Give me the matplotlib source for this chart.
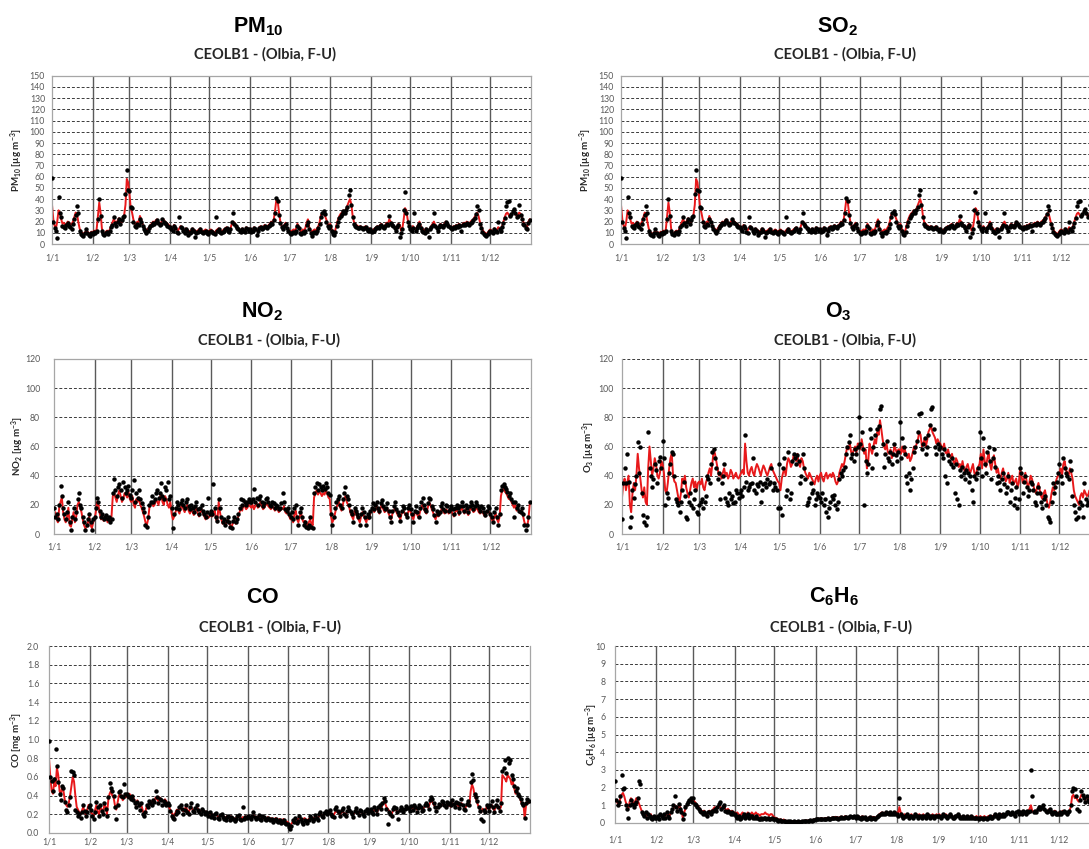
import numpy as np
import matplotlib
matplotlib.use('Agg')
import matplotlib.pyplot as plt

plt.rcParams['font.family'] = ['Lato', 'DejaVu Sans']
plt.rcParams['mathtext.fontset'] = 'custom'
plt.rcParams['mathtext.rm'] = 'Lato:bold'
plt.rcParams['mathtext.it'] = 'Lato:italic'
plt.rcParams['mathtext.bf'] = 'Liberation Sans:bold'

# ---- data: daily values 1 Jan - 31 Dec (365 days) ----
month_start = [0, 31, 59, 90, 120, 151, 181, 212, 243, 273, 304, 334]
month_labels = ['1/1', '1/2', '1/3', '1/4', '1/5', '1/6', '1/7', '1/8', '1/9', '1/10', '1/11', '1/12']
subtitle = 'CEOLB1 - (Olbia, F-U)'

# PM10 (also shown in the "SO2" panel of the original)
pm10_obs = [59,20,14,12,5,42,28,24,16,15,14,17,19,16,15,13,18,22,26,34,28,12,9,8,7,10,13,10,8,7,10,
            9,11,10,12,22,40,25,12,9,8,10,11,9,12,15,17,24,19,16,20,22,18,21,24,25,45,66,48,
            47,33,32,20,16,15,18,17,22,20,16,13,12,10,12,14,16,17,19,18,20,21,19,17,18,22,20,19,18,16,15,
            15,13,12,16,14,11,10,24,15,14,12,10,13,12,8,10,11,13,12,6,10,11,12,13,11,10,11,12,10,9,
            11,12,11,10,9,24,12,13,11,10,11,12,13,14,12,11,13,20,28,18,16,14,13,12,11,13,12,11,14,13,12,
            13,11,12,14,13,8,12,14,15,13,14,16,15,14,16,17,19,18,21,28,41,38,26,19,15,13,16,18,14,12,
            10,9,10,11,10,12,16,14,10,9,11,10,12,17,20,13,10,7,10,11,10,12,14,18,24,28,29,27,20,16,14,
            16,12,9,8,11,16,20,23,25,27,29,28,30,33,44,48,35,24,18,16,15,14,14,15,14,13,14,15,13,12,13,
            12,11,12,13,14,15,14,16,17,15,14,16,18,17,25,19,17,16,14,12,15,17,6,10,13,30,46,28,20,16,
            13,12,14,28,12,14,16,18,14,12,11,10,13,12,6,13,15,17,28,16,14,12,15,17,16,15,17,20,18,16,15,
            14,13,15,14,16,15,17,16,12,17,18,17,19,18,17,19,20,21,23,27,34,30,18,14,11,9,8,7,9,11,
            12,11,10,13,12,11,20,13,12,15,19,23,34,37,38,25,27,29,31,28,24,25,35,26,22,18,17,14,13,19,21]
pm10_mod = [35,22,16,14,20,30,28,22,18,19,17,18,20,19,17,18,20,24,28,27,20,14,11,10,9,10,12,11,10,9,11,
            10,12,11,13,25,37,28,14,10,9,11,12,10,13,16,19,22,20,18,21,23,20,19,22,26,35,58,55,
            45,32,28,22,18,17,20,19,25,22,18,15,14,12,13,15,17,18,20,19,21,22,20,18,19,21,22,20,19,18,17,
            16,15,14,17,15,13,12,14,16,15,13,12,14,13,12,11,12,14,13,12,11,12,13,14,12,11,12,13,12,11,
            12,13,12,11,10,12,13,14,12,11,12,13,14,15,13,12,14,18,20,19,17,15,14,13,12,14,13,12,15,14,13,
            14,12,13,15,14,12,13,15,16,14,15,17,16,15,17,18,20,19,22,30,40,38,28,20,16,14,17,19,15,13,
            12,11,12,13,12,14,18,16,12,11,13,12,14,19,22,15,12,11,12,13,12,14,16,20,26,28,27,25,22,18,16,
            18,14,11,10,13,18,22,25,27,28,30,29,31,34,37,40,36,26,20,18,17,16,15,16,15,14,15,16,14,13,14,
            13,12,13,14,15,16,15,17,18,16,15,17,19,18,22,20,18,17,15,14,16,18,17,12,14,22,32,30,22,18,
            15,14,16,14,13,15,17,20,16,14,13,12,14,13,12,14,16,18,20,17,15,14,16,18,17,16,18,20,19,17,16,
            15,14,16,15,17,16,18,17,16,18,19,18,20,19,18,20,21,22,24,26,28,25,20,16,13,11,10,9,10,12,
            13,12,11,14,13,12,15,14,13,16,20,24,27,28,26,24,26,28,30,27,25,26,28,27,24,20,18,16,15,20,22]

no2_obs = [18,12,14,10,20,33,26,18,14,10,15,22,8,3,12,18,10,15,24,28,20,18,12,8,3,6,10,14,8,3,10,
           12,18,25,22,16,12,14,10,12,13,10,12,8,10,28,38,30,26,32,34,30,25,36,32,28,30,33,27,
           25,30,37,22,28,25,30,24,21,18,15,6,5,12,20,22,26,22,24,28,30,25,28,35,26,24,32,30,36,24,26,
           18,4,14,18,22,20,17,21,23,20,18,22,24,19,17,20,18,15,19,22,17,14,18,20,16,14,12,15,25,14,
           16,14,34,18,12,9,24,18,12,8,10,6,9,12,8,5,4,9,12,8,10,14,18,24,20,23,22,20,22,24,22,
           22,24,31,22,25,20,24,26,22,19,21,24,25,22,20,19,22,21,18,20,19,17,18,21,28,22,17,16,18,14,
           12,15,10,18,20,12,6,15,18,12,6,8,5,4,6,12,5,4,28,32,35,30,34,32,30,33,31,35,32,28,27,
           14,6,12,18,22,24,26,20,18,24,28,32,26,24,20,16,14,8,18,16,14,12,6,14,18,15,12,6,14,12,16,
           18,21,17,20,22,18,16,21,23,19,17,18,21,16,12,8,16,19,22,17,15,13,9,16,19,18,14,12,18,20,
           17,14,8,16,19,15,12,18,22,25,20,17,16,21,25,24,19,17,13,8,16,14,15,19,21,17,16,20,19,16,17,
           19,17,14,18,20,18,15,19,22,19,16,20,18,15,19,22,20,17,19,22,20,18,16,19,18,15,13,16,19,18,
           14,12,8,15,18,12,6,14,30,33,34,32,31,29,26,28,24,22,12,22,18,20,16,15,18,14,6,3,6,12,22]
no2_mod = [12,15,10,8,18,22,25,15,10,8,12,18,6,5,10,15,8,12,20,22,18,15,10,6,4,5,8,12,6,4,8,
           10,15,22,20,14,10,12,9,10,11,8,10,9,12,26,28,25,22,27,30,26,22,24,28,27,25,29,24,
           22,26,20,18,24,22,25,20,18,15,12,8,6,10,18,20,22,19,20,24,22,20,25,28,22,20,26,24,20,18,22,
           14,10,12,15,18,16,14,18,20,17,15,18,20,16,14,17,15,13,16,18,14,12,15,17,14,12,10,13,11,12,
           14,12,15,16,10,8,22,15,10,7,9,6,8,10,7,6,5,8,10,7,9,12,15,18,16,20,19,17,18,20,19,
           18,20,17,19,21,18,20,22,19,17,18,20,21,19,18,17,19,18,16,18,17,15,16,18,17,19,15,14,16,12,
           10,12,8,14,16,10,8,12,15,10,8,9,7,6,8,10,7,6,25,28,30,27,29,28,26,28,27,30,28,25,24,
           12,8,10,14,18,20,22,18,16,20,24,26,22,20,18,14,12,10,16,14,12,10,8,12,15,13,10,8,12,10,14,
           16,18,15,17,19,16,14,18,20,17,15,16,18,14,12,10,14,16,18,15,13,12,10,14,16,15,13,12,15,17,
           15,12,10,14,16,13,11,15,18,20,17,15,14,18,22,20,17,15,12,10,14,12,13,16,18,15,14,17,16,14,15,
           16,14,12,15,17,15,13,16,18,16,14,17,15,13,16,18,17,15,16,18,17,15,14,16,15,13,12,14,16,15,
           12,10,8,12,14,10,8,12,26,30,31,29,28,26,24,25,22,20,18,20,16,18,15,14,16,12,8,6,5,10,20]

o3_obs = [10,35,45,35,55,36,5,12,30,25,34,40,63,42,60,28,13,8,6,12,70,45,40,32,38,48,44,35,50,53,45,
          64,52,20,28,25,42,48,56,55,40,24,22,20,15,22,30,36,26,12,10,22,28,20,18,24,30,15,14,
          20,22,24,18,22,26,40,38,35,48,56,58,52,45,38,42,24,35,40,48,25,22,20,28,24,26,21,22,30,28,25,
          28,30,26,32,68,36,30,32,34,35,52,30,28,34,33,36,22,30,34,35,32,38,34,36,45,30,35,32,30,18,
          48,18,13,45,52,26,30,56,24,28,50,55,52,48,54,50,35,40,55,45,38,20,22,25,35,28,30,20,24,28,26,
          25,22,28,20,24,15,12,18,22,26,24,27,20,17,22,38,42,40,44,46,55,60,63,68,52,55,50,58,55,60,
          80,62,70,58,20,50,42,48,72,66,45,60,68,55,72,74,86,88,62,46,55,64,52,50,56,48,55,62,54,50,56,
          77,52,66,60,55,40,35,42,30,38,45,56,60,64,70,82,83,58,62,66,55,60,68,75,86,87,72,60,55,62,58,
          60,55,52,58,40,35,54,50,48,52,46,28,48,24,20,44,40,46,42,38,44,42,36,40,30,22,40,38,42,45,
          70,52,40,66,48,42,56,60,50,38,52,58,46,35,40,36,30,38,42,34,28,32,40,22,30,35,20,25,32,18,24,
          45,42,28,36,40,32,26,30,36,34,30,22,20,28,32,28,22,18,24,26,20,12,10,8,22,35,28,32,36,42,
          48,40,35,52,45,42,40,38,50,44,26,20,15,10,12,18,22,20,12,35,24,20,22,26,24,20,28,30,25,28,30]
o3_mod = [25,35,38,30,35,40,20,15,28,35,30,40,55,45,38,30,25,32,22,20,45,60,50,40,45,52,48,40,38,42,50,
          48,42,30,28,35,45,52,55,40,36,35,30,25,22,28,38,35,40,32,28,25,30,35,38,32,36,30,35,
          36,34,38,32,30,35,38,42,45,40,48,58,55,50,45,40,42,38,42,45,40,42,38,40,44,42,38,40,42,39,38,
          40,42,44,41,62,50,42,40,44,46,42,40,45,48,46,43,40,44,47,45,42,40,43,46,48,44,42,40,38,36,
          35,30,38,42,45,40,48,52,50,46,48,54,52,50,55,48,46,52,50,45,42,40,38,42,40,38,36,34,38,40,36,
          40,42,38,36,40,42,38,40,41,39,42,40,36,34,36,42,45,48,46,50,55,60,58,62,56,55,58,60,56,62,
          62,58,65,60,55,58,45,50,62,58,55,60,65,62,70,68,78,72,65,60,58,62,56,55,58,52,55,60,58,55,58,
          58,55,60,56,58,54,52,55,50,52,56,60,58,62,65,70,68,60,62,65,60,64,70,72,74,70,68,66,62,65,63,
          62,60,58,62,56,55,58,54,52,55,50,48,52,50,46,48,44,50,45,42,46,48,44,42,45,48,42,40,44,46,
          48,55,45,58,50,46,52,55,48,44,50,54,48,42,45,40,38,42,45,40,36,38,42,35,38,40,34,36,38,32,35,
          45,40,35,38,42,36,32,35,40,38,34,30,28,32,35,30,26,24,28,30,25,20,18,22,28,32,30,35,38,40,
          42,45,40,48,50,44,42,40,45,42,38,30,26,24,22,20,26,28,25,30,28,26,27,30,28,26,30,32,28,30,32]

co_obs = [0.98,0.60,0.56,0.45,0.58,0.90,0.72,0.55,0.42,0.35,0.50,0.48,0.33,0.25,0.22,0.30,0.38,0.66,0.65,0.62,0.25,0.22,0.18,0.20,0.16,0.22,0.30,0.24,0.18,0.22,0.28,
          0.30,0.25,0.18,0.15,0.22,0.33,0.28,0.18,0.30,0.24,0.20,0.32,0.26,0.18,0.38,0.53,0.48,0.45,0.40,0.28,0.15,0.30,0.44,0.45,0.40,0.38,0.52,0.42,
          0.42,0.40,0.38,0.36,0.40,0.35,0.32,0.28,0.33,0.30,0.25,0.32,0.20,0.18,0.22,0.30,0.28,0.34,0.32,0.30,0.35,0.33,0.45,0.38,0.32,0.36,0.35,0.30,0.34,0.32,0.30,
          0.32,0.30,0.24,0.18,0.16,0.15,0.20,0.24,0.22,0.28,0.30,0.26,0.20,0.25,0.30,0.22,0.20,0.28,0.32,0.24,0.22,0.27,0.30,0.25,0.22,0.20,0.26,0.23,0.20,0.22,
          0.21,0.18,0.22,0.17,0.19,0.16,0.20,0.21,0.16,0.15,0.19,0.20,0.17,0.15,0.14,0.17,0.18,0.14,0.17,0.16,0.15,0.13,0.15,0.18,0.19,0.15,0.14,0.28,0.15,0.17,0.16,
          0.18,0.17,0.15,0.18,0.22,0.17,0.15,0.16,0.19,0.15,0.14,0.18,0.17,0.15,0.14,0.16,0.15,0.14,0.15,0.12,0.14,0.15,0.13,0.12,0.14,0.11,0.12,0.14,0.11,0.10,
          0.10,0.06,0.04,0.08,0.14,0.12,0.16,0.11,0.13,0.18,0.15,0.12,0.10,0.14,0.13,0.11,0.14,0.18,0.16,0.13,0.15,0.19,0.16,0.14,0.20,0.22,0.18,0.17,0.21,0.24,0.20,
          0.22,0.25,0.20,0.18,0.17,0.26,0.28,0.24,0.22,0.18,0.25,0.27,0.20,0.18,0.24,0.28,0.25,0.22,0.20,0.17,0.24,0.27,0.22,0.19,0.25,0.23,0.20,0.18,0.24,0.26,0.21,
          0.24,0.26,0.22,0.20,0.28,0.25,0.20,0.28,0.30,0.26,0.32,0.37,0.34,0.26,0.10,0.22,0.20,0.18,0.26,0.28,0.27,0.22,0.15,0.25,0.28,0.26,0.22,0.26,0.29,0.27,
          0.27,0.24,0.29,0.25,0.30,0.28,0.22,0.27,0.30,0.28,0.24,0.25,0.30,0.32,0.30,0.26,0.35,0.38,0.36,0.32,0.28,0.24,0.28,0.31,0.30,0.34,0.33,0.30,0.28,0.33,0.31,
          0.32,0.30,0.35,0.31,0.28,0.33,0.32,0.27,0.31,0.36,0.30,0.26,0.25,0.31,0.34,0.30,0.55,0.63,0.57,0.42,0.38,0.34,0.28,0.24,0.15,0.13,0.25,0.22,0.30,0.28,
          0.24,0.30,0.34,0.28,0.22,0.30,0.35,0.28,0.24,0.32,0.66,0.70,0.78,0.64,0.80,0.75,0.78,0.62,0.58,0.50,0.45,0.48,0.42,0.40,0.36,0.32,0.30,0.16,0.32,0.36,0.34]
co_mod = [0.80,0.60,0.45,0.42,0.55,0.50,0.70,0.62,0.45,0.40,0.50,0.45,0.35,0.30,0.28,0.32,0.40,0.50,0.60,0.55,0.40,0.28,0.25,0.22,0.20,0.24,0.28,0.22,0.20,0.25,0.30,
          0.28,0.22,0.20,0.18,0.25,0.30,0.22,0.20,0.28,0.25,0.22,0.30,0.28,0.20,0.35,0.42,0.45,0.40,0.38,0.30,0.25,0.32,0.40,0.42,0.38,0.35,0.40,0.38,
          0.40,0.38,0.42,0.40,0.36,0.38,0.34,0.30,0.35,0.32,0.28,0.30,0.25,0.20,0.22,0.28,0.30,0.32,0.30,0.34,0.32,0.35,0.38,0.36,0.34,0.38,0.36,0.35,0.33,0.36,0.34,
          0.30,0.28,0.25,0.22,0.20,0.18,0.22,0.25,0.24,0.26,0.28,0.25,0.23,0.26,0.28,0.24,0.22,0.26,0.28,0.25,0.24,0.26,0.28,0.26,0.24,0.23,0.25,0.24,0.22,0.23,
          0.22,0.20,0.21,0.19,0.20,0.18,0.19,0.20,0.18,0.17,0.18,0.19,0.18,0.17,0.16,0.18,0.17,0.16,0.18,0.17,0.16,0.15,0.16,0.17,0.18,0.16,0.15,0.17,0.16,0.18,0.17,
          0.17,0.18,0.16,0.17,0.19,0.18,0.16,0.17,0.18,0.16,0.15,0.17,0.18,0.16,0.15,0.17,0.16,0.15,0.16,0.14,0.15,0.16,0.15,0.14,0.15,0.13,0.14,0.15,0.13,0.12,
          0.12,0.10,0.08,0.10,0.12,0.14,0.15,0.13,0.15,0.17,0.16,0.14,0.15,0.16,0.14,0.13,0.15,0.16,0.17,0.15,0.16,0.18,0.17,0.16,0.18,0.20,0.19,0.18,0.20,0.21,0.20,
          0.20,0.22,0.21,0.20,0.19,0.22,0.24,0.22,0.21,0.20,0.22,0.23,0.21,0.20,0.22,0.24,0.23,0.22,0.21,0.20,0.22,0.24,0.22,0.21,0.23,0.22,0.21,0.20,0.22,0.23,0.22,
          0.22,0.24,0.23,0.22,0.25,0.24,0.22,0.26,0.28,0.25,0.30,0.34,0.32,0.28,0.26,0.24,0.22,0.20,0.24,0.26,0.25,0.23,0.22,0.24,0.26,0.25,0.23,0.25,0.27,0.26,
          0.26,0.25,0.27,0.26,0.28,0.27,0.25,0.26,0.28,0.27,0.25,0.26,0.28,0.30,0.29,0.27,0.32,0.35,0.33,0.30,0.28,0.26,0.27,0.29,0.28,0.30,0.31,0.29,0.28,0.30,0.29,
          0.30,0.28,0.32,0.30,0.29,0.31,0.30,0.28,0.30,0.32,0.30,0.28,0.27,0.30,0.32,0.30,0.45,0.52,0.48,0.40,0.36,0.32,0.28,0.25,0.22,0.26,0.24,0.22,0.28,0.27,
          0.25,0.28,0.30,0.26,0.24,0.28,0.30,0.27,0.25,0.28,0.62,0.60,0.58,0.55,0.62,0.60,0.58,0.52,0.55,0.48,0.42,0.45,0.40,0.38,0.35,0.30,0.32,0.15,0.30,0.35,0.32]

c6h6_obs = [2.4,1.3,1.0,1.2,1.5,2.7,1.9,2.0,1.0,0.8,0.3,1.0,1.3,1.1,0.9,1.1,1.2,1.4,2.4,2.2,0.6,0.5,0.4,0.6,0.3,0.5,0.4,0.3,0.2,0.4,0.3,
            0.3,0.4,0.2,0.5,0.4,0.3,0.5,0.3,0.6,0.4,0.3,0.6,0.8,1.0,1.5,0.9,0.7,1.1,0.8,0.6,0.2,0.5,0.9,1.1,1.2,1.3,1.4,1.2,
            1.4,1.1,1.0,0.9,0.8,0.7,0.6,0.5,0.6,0.5,0.4,0.6,0.6,0.5,0.7,0.7,0.8,0.7,0.9,1.1,1.2,0.8,0.9,1.0,0.7,0.6,0.7,0.6,0.5,0.6,0.5,
            0.5,0.4,0.3,0.4,0.2,0.3,0.4,0.5,0.3,0.4,0.5,0.3,0.4,0.4,0.3,0.3,0.4,0.3,0.2,0.2,0.3,0.2,0.3,0.3,0.2,0.3,0.2,0.2,0.3,0.2,
            0.2,0.2,0.15,0.1,0.15,0.1,0.1,0.1,0.1,0.08,0.1,0.05,0.1,0.08,0.05,0.1,0.05,0.05,0.1,0.05,0.05,0.1,0.1,0.1,0.12,0.1,0.12,0.15,0.12,0.15,0.18,
            0.2,0.2,0.22,0.2,0.25,0.2,0.22,0.25,0.22,0.28,0.25,0.22,0.28,0.3,0.28,0.3,0.3,0.25,0.3,0.32,0.3,0.3,0.35,0.32,0.3,0.32,0.38,0.32,0.35,0.38,
            0.3,0.38,0.32,0.3,0.2,0.36,0.3,0.32,0.22,0.2,0.3,0.32,0.22,0.3,0.28,0.22,0.32,0.38,0.48,0.5,0.58,0.5,0.52,0.6,0.58,0.5,0.6,0.52,0.5,0.6,0.5,
            0.5,0.4,1.4,0.5,0.4,0.3,0.4,0.4,0.5,0.3,0.4,0.4,0.3,0.4,0.5,0.4,0.3,0.4,0.4,0.3,0.4,0.4,0.3,0.5,0.4,0.3,0.4,0.4,0.3,0.4,0.4,
            0.4,0.4,0.3,0.4,0.5,0.4,0.4,0.3,0.4,0.5,0.4,0.3,0.3,0.4,0.4,0.5,0.4,0.3,0.3,0.4,0.3,0.3,0.4,0.3,0.3,0.4,0.3,0.3,0.3,0.3,
            0.3,0.2,0.3,0.3,0.2,0.3,0.3,0.2,0.3,0.4,0.3,0.3,0.4,0.5,0.4,0.3,0.5,0.4,0.4,0.5,0.4,0.5,0.6,0.6,0.5,0.5,0.6,0.5,0.4,0.6,0.7,
            0.5,0.6,0.5,0.7,0.6,0.5,0.7,0.6,0.7,3.0,1.5,0.6,0.7,0.6,0.8,0.9,0.8,0.9,1.0,0.8,0.7,0.6,0.7,0.8,0.6,0.5,0.6,0.6,0.5,0.5,
            0.5,0.6,0.5,0.6,0.7,0.6,0.5,0.6,0.7,1.0,1.8,2.0,1.9,1.5,0.8,0.7,1.3,1.8,1.6,1.4,1.2,1.5,1.3,1.2,1.1,1.3,1.2,1.1,1.0,1.2,1.1]
c6h6_mod = [1.2,1.3,1.1,1.0,1.4,1.6,1.7,1.5,1.2,1.0,0.8,1.2,1.4,1.3,1.0,1.2,1.4,1.3,1.1,0.9,0.7,0.6,0.5,0.5,0.4,0.5,0.4,0.5,0.3,0.4,0.3,
            0.3,0.4,0.3,0.5,0.4,0.3,0.5,0.4,0.6,0.5,0.4,0.6,0.7,0.8,1.0,0.9,0.8,1.0,0.9,0.7,0.3,0.6,0.8,1.0,1.1,1.2,1.3,1.2,
            1.3,1.2,1.1,1.0,0.9,0.8,0.7,0.6,0.7,0.6,0.5,0.6,0.7,0.6,0.7,0.8,0.9,0.8,0.9,1.0,0.9,0.8,0.9,1.0,0.8,0.7,0.8,0.7,0.6,0.7,0.6,
            0.6,0.5,0.6,0.5,0.4,0.5,0.6,0.5,0.4,0.5,0.6,0.5,0.5,0.6,0.5,0.5,0.6,0.5,0.5,0.4,0.5,0.5,0.5,0.6,0.5,0.5,0.4,0.5,0.5,0.4,
            0.3,0.3,0.25,0.2,0.2,0.2,0.15,0.2,0.15,0.12,0.12,0.1,0.12,0.1,0.1,0.12,0.1,0.1,0.12,0.1,0.1,0.12,0.12,0.12,0.15,0.12,0.15,0.18,0.15,0.18,0.2,
            0.22,0.2,0.25,0.22,0.28,0.25,0.22,0.28,0.26,0.3,0.28,0.26,0.3,0.32,0.3,0.35,0.32,0.3,0.32,0.36,0.35,0.32,0.38,0.36,0.34,0.32,0.4,0.36,0.38,0.4,
            0.38,0.4,0.35,0.36,0.3,0.38,0.36,0.34,0.3,0.25,0.32,0.36,0.3,0.35,0.32,0.3,0.36,0.4,0.5,0.56,0.6,0.55,0.58,0.6,0.6,0.56,0.6,0.58,0.52,0.6,0.56,
            0.6,0.5,0.9,0.6,0.5,0.4,0.5,0.4,0.5,0.4,0.4,0.5,0.4,0.4,0.5,0.5,0.4,0.5,0.4,0.4,0.5,0.4,0.4,0.5,0.5,0.4,0.4,0.5,0.4,0.4,0.5,
            0.4,0.5,0.4,0.4,0.5,0.4,0.5,0.4,0.4,0.5,0.4,0.4,0.3,0.4,0.4,0.5,0.4,0.4,0.3,0.4,0.4,0.3,0.4,0.4,0.3,0.4,0.4,0.3,0.3,0.4,
            0.3,0.3,0.4,0.3,0.3,0.4,0.3,0.3,0.4,0.4,0.3,0.4,0.4,0.5,0.4,0.4,0.5,0.4,0.5,0.5,0.4,0.5,0.5,0.6,0.5,0.5,0.6,0.5,0.5,0.6,0.6,
            0.6,0.5,0.6,0.7,0.6,0.5,0.6,0.7,0.8,1.0,0.7,0.6,0.7,0.6,0.7,0.8,0.7,0.8,0.9,0.8,0.7,0.6,0.7,0.8,0.6,0.5,0.6,0.7,0.6,0.5,
            0.6,0.5,0.6,0.7,0.6,0.6,0.5,0.6,0.7,0.9,1.5,1.6,1.4,1.5,1.3,1.2,1.4,1.6,1.5,1.4,1.3,1.5,1.4,1.3,1.2,1.4,1.3,1.2,1.1,1.3,1.2]

days = np.arange(365)

W, H = 1089, 849
fig = plt.figure(figsize=(W / 100, H / 100), dpi=100)
fig.patch.set_facecolor('white')


def fx(x):
    return x / W


def fy(y):
    return 1 - y / H


GRAY = '#595959'


def panel(l, r, t, b, obs, mod, ymax, ystep, fmt, ylabel, title, tx, ty, sy,
          ylab_x, top_dashed, xpad, ypad):
    ax = fig.add_axes([fx(l), fy(b), fx(r - l), (b - t) / H])
    ax.set_xlim(0, 365)
    ax.set_ylim(0, ymax)
    ticks = np.arange(0, ymax + ystep / 2, ystep)
    ax.set_yticks(ticks)
    ax.set_yticklabels([fmt % v for v in ticks])
    ax.set_xticks(month_start)
    ax.set_xticklabels(month_labels)
    ax.tick_params(length=0, labelsize=6.3, labelcolor=GRAY)
    ax.tick_params(axis='x', pad=xpad)
    ax.tick_params(axis='y', pad=ypad)
    for s in ax.spines.values():
        s.set_color('#a6a6a6')
        s.set_linewidth(0.9)
    grid = ticks[1:] if top_dashed else ticks[1:-1]
    if top_dashed:
        ax.spines['top'].set_visible(False)
    for v in grid:
        ax.axhline(v, color='#3a3a3a', lw=0.7, ls=(0, (3, 2)), zorder=1, clip_on=False)
    for m in month_start[1:]:
        ax.axvline(m, color='#5a5a5a', lw=1.0, zorder=1)
    ax.plot(days, mod, color='#e8191b', lw=1.4, zorder=2)
    ax.plot(days, obs, 'o', color='black', ms=3.2, mew=0, zorder=3)
    fig.text(fx(tx), fy(ty), title, ha='center', va='center', fontsize=15.5)
    fig.text(fx(tx + 7), fy(sy), subtitle, ha='center', va='center',
             fontsize=10.5, fontweight='bold', color='#262626')
    fig.text(fx(ylab_x), fy((t + b) / 2), ylabel, rotation=90, ha='center',
             va='center', fontsize=7, fontweight='bold', color='#262626')
    return ax


lab_ug = ' [µg m$^{-3}$]'
panel(52, 531, 75.7, 244, pm10_obs, pm10_mod, 150, 10, '%d', 'PM$_{10}$' + lab_ug,
      r'$\mathbf{PM_{10}}$', 258, 27, 54, 17, False, 7, 5)
panel(621, 1102, 75.7, 244, pm10_obs, pm10_mod, 150, 10, '%d', 'PM$_{10}$' + lab_ug,
      r'$\mathbf{SO_{2}}$', 838, 27, 54, 586, False, 7, 5)
panel(54, 531, 359, 534, no2_obs, no2_mod, 120, 20, '%d', 'NO$_2$' + lab_ug,
      r'$\mathbf{NO_{2}}$', 262, 312, 340, 18, False, 6, 10)
panel(622, 1100, 359, 534, o3_obs, o3_mod, 120, 20, '%d', 'O$_3$' + lab_ug,
      r'$\mathbf{O_{3}}$', 838, 312, 340, 589, True, 6, 6)
panel(49, 530, 646, 833, co_obs, co_mod, 2.0, 0.2, '%.1f', 'CO [mg m$^{-3}$]',
      r'$\mathbf{CO}$', 263, 597, 627, 17, True, 3, 7)
panel(615, 1100, 646, 823, c6h6_obs, c6h6_mod, 10, 1, '%d', 'C$_6$H$_6$' + lab_ug,
      r'$\mathbf{C_{6}H_{6}}$', 834, 597, 627, 592, True, 9, 7)

fig.savefig('out.png', dpi=100)
